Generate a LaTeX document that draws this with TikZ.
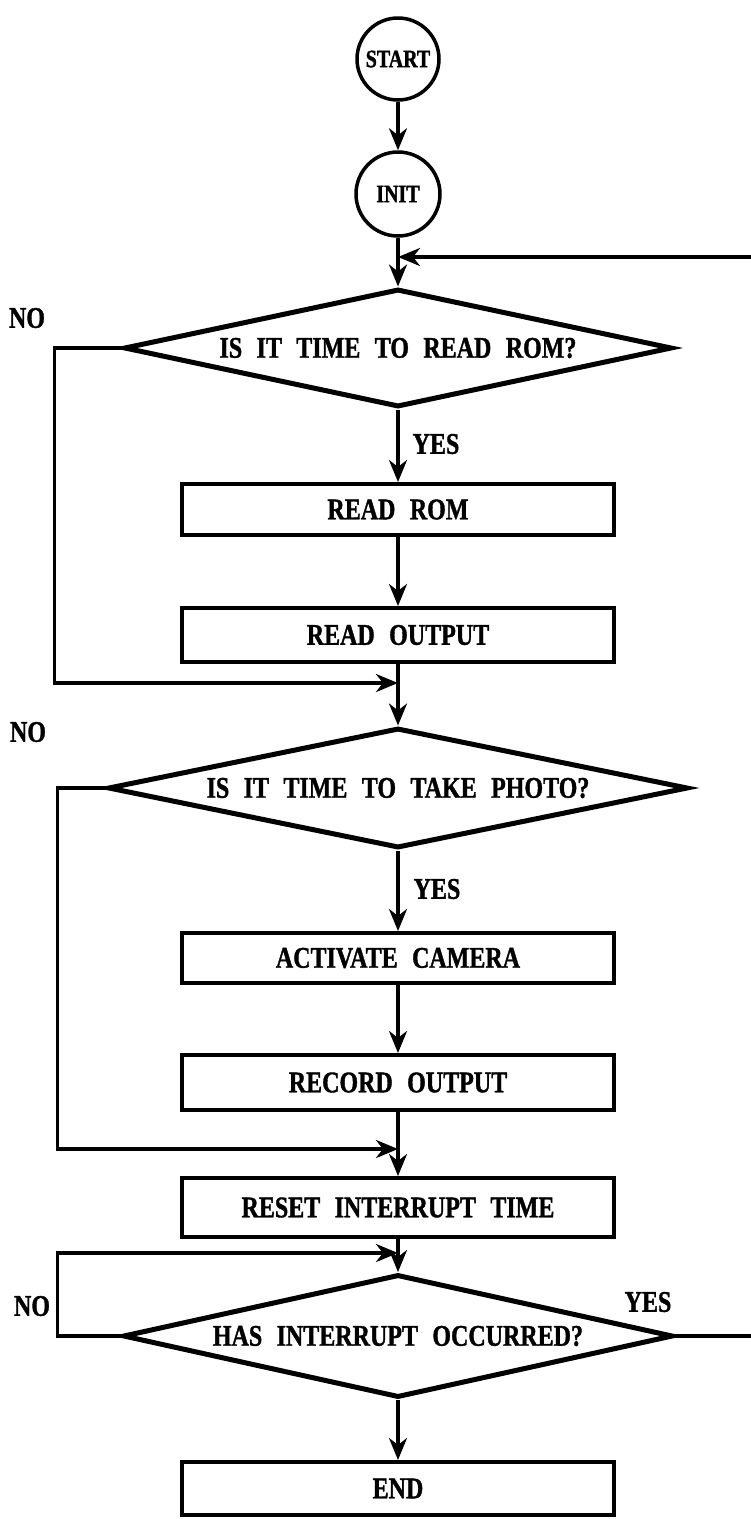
\documentclass[tikz,border=0pt]{standalone}
\usepackage{fontspec}
\setmainfont{Liberation Serif}[FakeStretch=0.8,WordSpace=2.4,FakeBold=1.2]
\usetikzlibrary{shapes.geometric,arrows.meta}

\tikzset{
  flowline/.style={line width=3.5pt,-{Stealth[length=22pt,width=18pt,inset=7pt]}},
  termcircle/.style={circle,draw,line width=3.5pt,inner sep=0pt,minimum size=#1,
    font=\bfseries\fontsize{25}{28}\selectfont},
  procbox/.style={rectangle,draw,line width=4pt,minimum width=432pt,minimum height=#1,inner sep=0pt},
  decision/.style={diamond,draw,line width=5pt,inner sep=0pt,aspect=4.6,minimum width=#1,minimum height=118pt},
  lbl/.style={inner sep=0pt},
}

\begin{document}
\begin{tikzpicture}[x=1pt,y=-1pt,every node/.append style={font=\bfseries\fontsize{30}{33}\selectfont}]
\useasboundingbox (0,0) rectangle (751,1519);

% terminals and steps down the main axis
\node[termcircle=82pt] (start) at (398,59) {START};
\node[termcircle=84pt] (init) at (398,194) {INIT};
\coordinate (top) at (398,257);
\node[decision=548pt] (d1) at (398,348) {IS IT TIME TO READ ROM?};
\node[procbox=51pt] (rom) at (398,509.5) {READ ROM};
\node[procbox=54pt] (out) at (398,635) {READ OUTPUT};
\coordinate (j1) at (398,683);
\node[decision=580pt,minimum height=120pt] (d2) at (398,788) {IS IT TIME TO TAKE PHOTO?};
\node[procbox=50pt] (act) at (398,958) {ACTIVATE CAMERA};
\node[procbox=55pt] (rec) at (398,1082.5) {RECORD OUTPUT};
\coordinate (j2) at (398,1149);
\node[procbox=59pt] (reset) at (398,1207.5) {RESET INTERRUPT TIME};
\coordinate (j3) at (398,1253);
\node[decision=550pt,minimum height=123pt] (d3) at (398,1336) {HAS INTERRUPT OCCURRED?};
\node[procbox=53pt] (end) at (398,1488.5) {END};

% branch labels
\node[lbl] (no1) at (27,318) {NO};
\node[lbl] (yes1) at (436,444) {YES};
\node[lbl] (no2) at (28,732) {NO};
\node[lbl] (yes2) at (437,889) {YES};
\node[lbl] (no3) at (32,1306) {NO};
\node[lbl] (yes3) at (648,1302) {YES};

% main flow
\draw[flowline] (start) -- (init);
\draw[flowline] (init.south) -- (d1.north);
\draw[flowline] (d1.south) -- (rom.north);
\draw[flowline] (rom.south) -- (out.north);
\draw[flowline] (out.south) -- (d2.north);
\draw[flowline] (d2.south) -- (act.north);
\draw[flowline] (act.south) -- (rec.north);
\draw[flowline] (rec.south) -- (reset.north);
\draw[flowline] (reset.south) -- (d3.north);
\draw[flowline] (d3.south) -- (end.north);

% NO branches and waiting loop
\draw[flowline] (d1.west) -- ++(-67,0) |- (j1);
\draw[flowline] (d2.west) -- ++(-48,0) |- (j2);
\draw[flowline] (d3.west) -- ++(-63,0) |- (j3);

% YES return to the top of the cycle
\draw[flowline] (d3.east) -- ++(120,0) |- (top);
\end{tikzpicture}
\end{document}
